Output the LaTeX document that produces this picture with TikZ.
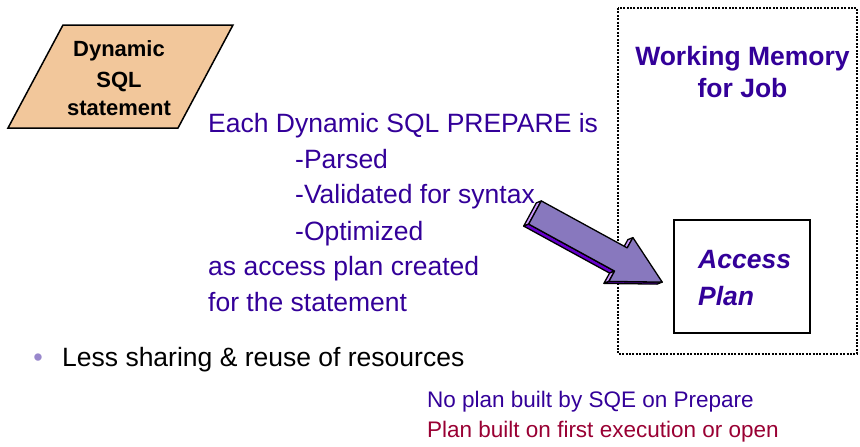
\documentclass[tikz,border=0pt]{standalone}
\usepackage{fontspec}
\setmainfont{Liberation Sans}
\usetikzlibrary{calc}
\definecolor{ink}{HTML}{330099}
\definecolor{plum}{HTML}{990033}
\definecolor{peach}{HTML}{F2C79B}
\definecolor{arrowface}{HTML}{8878BE}
\definecolor{arrowlight}{HTML}{CC99FF}
\definecolor{arrowdark}{HTML}{6600CC}
\definecolor{bulletc}{HTML}{9988CC}
\begin{document}
\begin{tikzpicture}[x=1pt,y=-1pt,
  body/.style={inner sep=0pt, anchor=base west, text=ink, font=\fontsize{26.5}{30}\selectfont},
  boxlabel/.style={inner sep=0pt, anchor=base, text=black, font=\bfseries\fontsize{22}{26}\selectfont},
  memlabel/.style={inner sep=0pt, anchor=base, text=ink, font=\bfseries\fontsize{26.5}{30}\selectfont},
  planlabel/.style={inner sep=0pt, anchor=base west, text=ink, font=\bfseries\itshape\fontsize{26.5}{30}\selectfont},
  note/.style={inner sep=0pt, anchor=base west, font=\fontsize{22.5}{26}\selectfont},
  facet/.style={draw=black, line width=1.3pt, line join=round},
]
\useasboundingbox (0,0) rectangle (860,447);

% input parallelogram
\draw[fill=peach, line width=1.5pt, line join=miter] (8,128) -- (178,128) -- (233,25) -- (63,25) -- cycle;
\node[boxlabel] (dyn1) at (119,56) {Dynamic};
\node[boxlabel] (dyn2) at (119,87) {SQL};
\node[boxlabel] (dyn3) at (119,115) {statement};

% explanatory text
\node[body] (l1) at (208,132) {Each Dynamic SQL PREPARE is};
\node[body] (l2) at (295,168) {-Parsed};
\node[body] (l3) at (295,203) {-Validated for syntax};
\node[body] (l4) at (295,240) {-Optimized};
\node[body] (l5) at (208,275) {as access plan created};
\node[body] (l6) at (208,311) {for the statement};

% working memory region
\draw[dash pattern=on 2pt off 1.4pt, line width=2pt] (618,8) rectangle (857,354);
\node[memlabel] (wm1) at (742.5,65) {Working Memory};
\node[memlabel] (wm2) at (742.5,97) {for Job};

% access plan box
\draw[line width=2pt] (674,220) rectangle (810,333);
\node[planlabel] (ap1) at (698,268) {Access};
\node[planlabel] (ap2) at (698,305) {Plan};

% block arrow with extruded sides
\coordinate (A) at (541.3,200.9);
\coordinate (B) at (627.2,247.9);
\coordinate (C) at (632.9,237.6);
\coordinate (D) at (662.2,282.1);
\coordinate (E) at (608.9,281.4);
\coordinate (F) at (614.6,271.1);
\coordinate (G) at (528.7,224.1);
\coordinate (dp) at (-5,2);
\filldraw[facet, fill=arrowlight] (G) -- (A) -- ($(A)+(dp)$) -- ($(G)+(dp)$) -- cycle;
\filldraw[facet, fill=arrowdark] (F) -- (G) -- ($(G)+(dp)$) -- ($(F)+(dp)$) -- cycle;
\filldraw[facet, fill=arrowlight] (C) -- (B) -- ($(B)+(dp)$) -- ($(C)+(dp)$) -- cycle;
\filldraw[facet, fill=arrowlight] (E) -- (F) -- ($(F)+(dp)$) -- ($(E)+(dp)$) -- cycle;
\filldraw[facet, fill=arrowdark] (D) -- (E) -- ($(E)+(dp)$) -- ($(D)+(dp)$) -- cycle;
\filldraw[facet, fill=arrowface] (A) -- (B) -- (C) -- (D) -- (E) -- (F) -- (G) -- cycle;

% bullet point
\node[inner sep=0pt, anchor=base, text=bulletc, font=\fontsize{27}{30}\selectfont] (bul) at (38,366) {•};
\node[inner sep=0pt, anchor=base west, text=black, font=\fontsize{26.5}{30}\selectfont] (less) at (62,366) {Less sharing \& reuse of resources};

% notes
\node[note, text=ink] (n1) at (427,407) {No plan built by SQE on Prepare};
\node[note, text=plum] (n2) at (427,437) {Plan built on first execution or open};
\end{tikzpicture}
\end{document}
